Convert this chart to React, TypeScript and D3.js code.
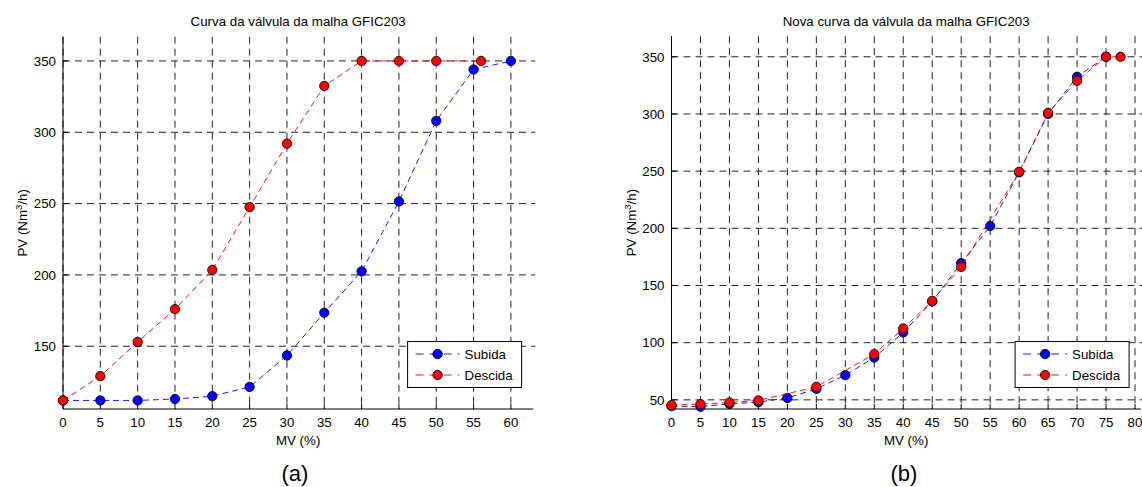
import { useEffect, useRef } from "react";
import * as d3 from "d3";

// panel (a) – curva original
const mvSubidaA = [0, 5, 10, 15, 20, 25, 30, 35, 40, 45, 50, 55, 60];
const pvSubidaA = [112, 112, 112, 113, 115, 121.5, 143.5, 173.5, 202.5, 251.5, 308, 344, 350];
const mvDescidaA = [0, 5, 10, 15, 20, 25, 30, 35, 40, 45, 50, 56];
const pvDescidaA = [112, 129, 153, 176, 203.5, 247.5, 292, 332.5, 350, 350, 350, 350];

// panel (b) – nova curva
const mvSubidaB = [0, 5, 10, 15, 20, 25, 30, 35, 40, 45, 50, 55, 60, 65, 70, 75];
const pvSubidaB = [44.5, 44, 46.5, 48, 51.7, 59.6, 71.6, 87, 109, 136, 169.5, 202, 249, 300, 332.5, 350];
const mvDescidaB = [0, 5, 10, 15, 25, 35, 40, 45, 50, 60, 65, 70, 75, 77.5];
const pvDescidaB = [45.4, 46.2, 47.7, 49.5, 61.4, 90, 112.4, 136.6, 166.3, 249.4, 301, 329, 350, 350];

const xTicksA = d3.range(0, 61, 5);
const yTicksA = [150, 200, 250, 300, 350];
const xTicksB = d3.range(0, 81, 5);
const yTicksB = [50, 100, 150, 200, 250, 300, 350];

const legendLabels = ["Subida", "Descida"];
const seriesColors = ["#0000ff", "#ff0000"];

const FONT = '"Liberation Sans", Arial, Helvetica, sans-serif';

function drawPanel(svg, p) {
  const x = d3.scaleLinear().domain(p.xDomain).range([p.left, p.right]);
  const y = d3.scaleLinear().domain(p.yDomain).range([p.bottom, p.top]);
  const g = svg.append("g");

  // grid
  g.selectAll(".vgrid")
    .data(p.xTicks)
    .enter()
    .append("line")
    .attr("x1", (d) => x(d))
    .attr("x2", (d) => x(d))
    .attr("y1", p.top)
    .attr("y2", p.bottom)
    .attr("stroke", "#222")
    .attr("stroke-dasharray", "7,5");
  g.selectAll(".hgrid")
    .data(p.yTicks)
    .enter()
    .append("line")
    .attr("x1", p.left)
    .attr("x2", p.right + 2)
    .attr("y1", (d) => y(d))
    .attr("y2", (d) => y(d))
    .attr("stroke", "#222")
    .attr("stroke-dasharray", "7,5");

  // axes (box off)
  g.append("line")
    .attr("x1", p.left).attr("x2", p.left)
    .attr("y1", p.top).attr("y2", p.bottom)
    .attr("stroke", "#000");
  g.append("line")
    .attr("x1", p.left).attr("x2", p.right)
    .attr("y1", p.bottom).attr("y2", p.bottom)
    .attr("stroke", "#000");

  // ticks pointing in
  g.selectAll(".xtick")
    .data(p.xTicks)
    .enter()
    .append("line")
    .attr("x1", (d) => x(d)).attr("x2", (d) => x(d))
    .attr("y1", p.bottom).attr("y2", p.bottom - 5)
    .attr("stroke", "#000");
  g.selectAll(".ytick")
    .data(p.yTicks)
    .enter()
    .append("line")
    .attr("x1", p.left).attr("x2", p.left + 5)
    .attr("y1", (d) => y(d)).attr("y2", (d) => y(d))
    .attr("stroke", "#000");

  g.selectAll(".xlab")
    .data(p.xTicks)
    .enter()
    .append("text")
    .attr("x", (d) => x(d))
    .attr("y", p.bottom + 17.5)
    .attr("text-anchor", "middle")
    .text((d) => d);
  g.selectAll(".ylab")
    .data(p.yTicks)
    .enter()
    .append("text")
    .attr("x", p.left - 7)
    .attr("y", (d) => y(d) + 4.8)
    .attr("text-anchor", "end")
    .text((d) => d);

  // series
  const line = d3.line().x((d) => x(d[0])).y((d) => y(d[1]));
  p.series.forEach((s, i) => {
    const pts = s.x.map((v, k) => [v, s.y[k]]);
    g.append("path")
      .attr("d", line(pts))
      .attr("fill", "none")
      .attr("stroke", seriesColors[i])
      .attr("stroke-width", 0.9)
      .attr("stroke-dasharray", "6,4");
    g.selectAll(".pt" + i)
      .data(pts)
      .enter()
      .append("circle")
      .attr("cx", (d) => x(d[0]))
      .attr("cy", (d) => y(d[1]))
      .attr("r", 4.7)
      .attr("fill", seriesColors[i])
      .attr("stroke", "#000")
      .attr("stroke-width", 0.8);
  });

  // title + labels
  const cx = (p.left + p.right) / 2;
  g.append("text")
    .attr("x", cx)
    .attr("y", 25.5)
    .attr("text-anchor", "middle")
    .text(p.title);
  g.append("text")
    .attr("x", cx)
    .attr("y", 444.5)
    .attr("text-anchor", "middle")
    .text("MV (%)");
  const yl = g.append("text")
    .attr("transform", `translate(${p.left - 36},${(p.top + p.bottom) / 2}) rotate(-90)`)
    .attr("text-anchor", "middle");
  yl.append("tspan").text("PV (Nm");
  yl.append("tspan").attr("dy", -5).attr("font-size", 9.5).text("3");
  yl.append("tspan").attr("dy", 5).text("/h)");

  g.append("text")
    .attr("x", p.tagX)
    .attr("y", 481)
    .attr("text-anchor", "middle")
    .attr("font-size", 22)
    .text(p.tag);

  // legend
  const lw = 114;
  const lh = 46;
  const lx = p.right - 11.7 - lw;
  const ly = p.bottom - 21.5 - lh;
  const leg = g.append("g").attr("transform", `translate(${lx},${ly})`);
  leg.append("rect")
    .attr("width", lw)
    .attr("height", lh)
    .attr("fill", "#fff")
    .attr("stroke", "#000");
  legendLabels.forEach((lab, i) => {
    const ry = 12.5 + i * 21;
    leg.append("line")
      .attr("x1", 8).attr("x2", 52)
      .attr("y1", ry).attr("y2", ry)
      .attr("stroke", seriesColors[i])
      .attr("stroke-width", 0.9)
      .attr("stroke-dasharray", "8,6");
    leg.append("circle")
      .attr("cx", 30)
      .attr("cy", ry)
      .attr("r", 4.7)
      .attr("fill", seriesColors[i])
      .attr("stroke", "#000")
      .attr("stroke-width", 0.8);
    leg.append("text")
      .attr("x", 57)
      .attr("y", ry + 4.8)
      .text(lab);
  });
}

export default function App() {
  const ref = useRef(null);

  useEffect(() => {
    const svg = d3.select(ref.current);
    svg.selectAll("*").remove();

    drawPanel(svg, {
      left: 63, right: 533.3, top: 36.7, bottom: 409,
      xDomain: [0, 63], yDomain: [106, 367],
      xTicks: xTicksA, yTicks: yTicksA,
      title: "Curva da válvula da malha GFIC203",
      tag: "(a)", tagX: 295,
      series: [
        { x: mvSubidaA, y: pvSubidaA },
        { x: mvDescidaA, y: pvDescidaA },
      ],
    });
    drawPanel(svg, {
      left: 671.5, right: 1140.8, top: 36.2, bottom: 409,
      xDomain: [0, 81], yDomain: [42, 368],
      xTicks: xTicksB, yTicks: yTicksB,
      title: "Nova curva da válvula da malha GFIC203",
      tag: "(b)", tagX: 904,
      series: [
        { x: mvSubidaB, y: pvSubidaB },
        { x: mvDescidaB, y: pvDescidaB },
      ],
    });
  }, []);

  return (
    <div style={{ position: "absolute", left: 0, top: 0 }}>
      <svg
        ref={ref}
        width={1142}
        height={487}
        style={{ display: "block", background: "#fff" }}
        fontFamily={FONT}
        fontSize={13.3}
        fill="#000"
      />
    </div>
  );
}
